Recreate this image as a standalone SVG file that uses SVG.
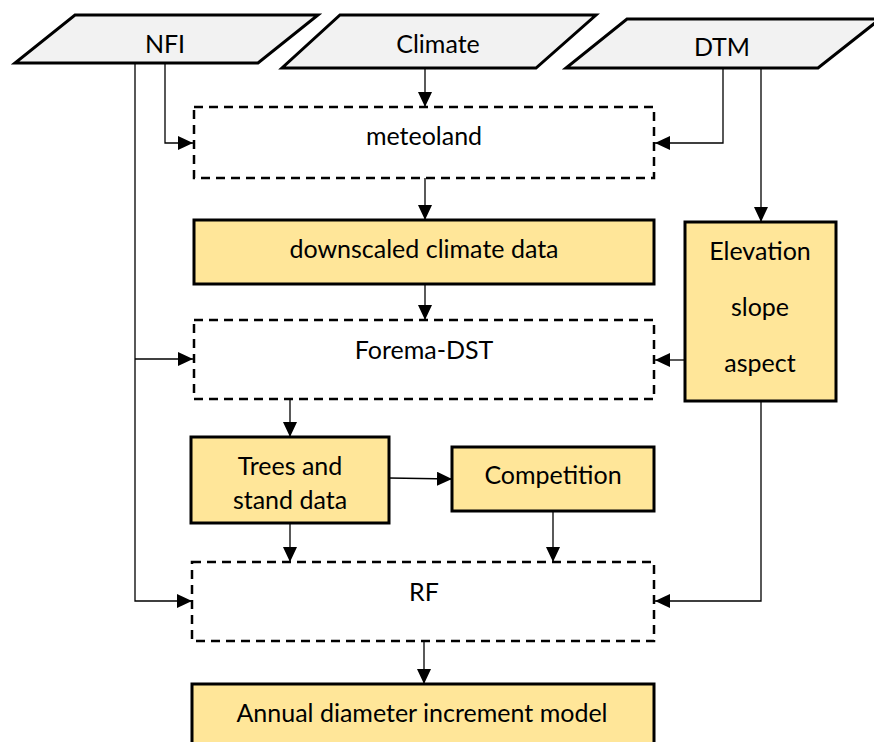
<svg xmlns="http://www.w3.org/2000/svg" width="874" height="742" viewBox="0 0 874 742">
<style>
.io{fill:#F2F2F2;stroke:#000;stroke-width:3}
.dash{fill:#fff;stroke:#000;stroke-width:2.5;stroke-dasharray:9 6}
.box{fill:#FFE699;stroke:#000;stroke-width:3}
.t{font-family:Lato,"Open Sans",sans-serif;font-size:25px;fill:#000;text-anchor:middle;dominant-baseline:central}
.c{fill:none;stroke:#000;stroke-width:1.3}
</style>
<defs>
<marker id="a" markerWidth="15" markerHeight="14" refX="15" refY="7" orient="auto" markerUnits="userSpaceOnUse">
<path d="M0,0 L15,7 L0,14 Z" fill="#000"/>
</marker>
</defs>
<rect width="874" height="742" fill="#fff"/>
<g id="nfi"><polygon class="io" points="75,15 318,15 258,63 15,63"/><text class="t" x="165" y="43">NFI</text></g>
<g id="climate"><polygon class="io" points="340,15 596,15 536,68 282,68"/><text class="t" x="438" y="43">Climate</text></g>
<g id="dtm"><polygon class="io" points="627,19 880,19 818,68 566,68"/><text class="t" x="722" y="46">DTM</text></g>
<g id="meteoland"><rect class="dash" x="194" y="107" width="460" height="71"/><text class="t" x="424" y="135">meteoland</text></g>
<g id="downscaled"><rect class="box" x="194" y="220" width="460" height="64"/><text class="t" x="424" y="248">downscaled climate data</text></g>
<g id="forema"><rect class="dash" x="194" y="320" width="460" height="79"/><text class="t" x="424" y="349">Forema-DST</text></g>
<g id="elevation"><rect class="box" x="685" y="222" width="151" height="179"/><text class="t" x="760" y="250">Elevation</text><text class="t" x="760" y="306">slope</text><text class="t" x="760" y="362">aspect</text></g>
<g id="trees"><rect class="box" x="191" y="437" width="198" height="86"/><text class="t" x="290" y="465">Trees and</text><text class="t" x="290" y="499">stand data</text></g>
<g id="competition"><rect class="box" x="452" y="447" width="202" height="64"/><text class="t" x="553" y="474">Competition</text></g>
<g id="rf"><rect class="dash" x="192" y="562" width="462" height="79"/><text class="t" x="424" y="591">RF</text></g>
<g id="annual"><rect class="box" x="192" y="684" width="462" height="70"/><text class="t" x="422" y="712">Annual diameter increment model</text></g>
<g id="connectors">
<path class="c" d="M425,68 V107" marker-end="url(#a)"/>
<path class="c" d="M165,63 V143 H193" marker-end="url(#a)"/>
<path class="c" d="M723,68 V143 H655" marker-end="url(#a)"/>
<path class="c" d="M425,178 V220" marker-end="url(#a)"/>
<path class="c" d="M425,284 V320" marker-end="url(#a)"/>
<path class="c" d="M135,63 V601 H192" marker-end="url(#a)"/>
<path class="c" d="M135,359 H193" marker-end="url(#a)"/>
<path class="c" d="M761,68 V222" marker-end="url(#a)"/>
<path class="c" d="M685,360 H655" marker-end="url(#a)"/>
<path class="c" d="M761,401 V601 H655" marker-end="url(#a)"/>
<path class="c" d="M290,398 V437" marker-end="url(#a)"/>
<path class="c" d="M389,478 L452,479" marker-end="url(#a)"/>
<path class="c" d="M290,523 V562" marker-end="url(#a)"/>
<path class="c" d="M553,511 V562" marker-end="url(#a)"/>
<path class="c" d="M424,641 V684" marker-end="url(#a)"/>
</g>
</svg>
